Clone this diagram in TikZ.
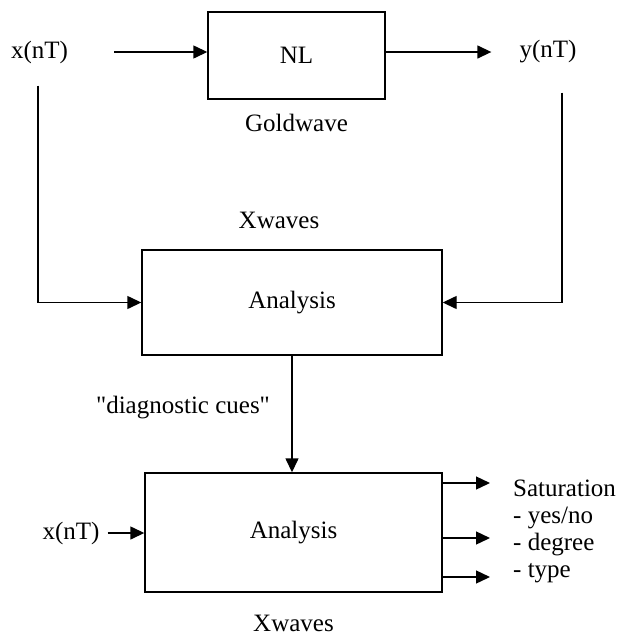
\documentclass[tikz,border=0pt]{standalone}
\usepackage{fontspec}
\newfontfamily\diagfont{Liberation Serif}
\usepackage{tikz}
\usetikzlibrary{shapes, arrows.meta, positioning}

\begin{document}
\begin{tikzpicture}[x=1pt, y=-1pt, node distance=100pt, auto,
            font=\diagfont\fontsize{25}{27}\selectfont,
            block/.style={draw, rectangle, line width=1.4pt, inner sep=0pt},
            txt/.style={inner sep=0pt},
            arrow/.style={-{Triangle[length=14pt, width=13pt]}, line width=1.4pt}]

            \useasboundingbox (0,0) rectangle (623,638);

            \node[block, minimum width=177pt, minimum height=87pt] (nl) at (296.5,55.5) {NL};
            \node[txt] (xin) at (39.5,52) {x(nT)};
            \node[txt] (yout) at (548,52) {y(nT)};
            \node[txt, below of=nl, node distance=67.5pt] (gold) {Goldwave};
            \node[block, minimum width=300pt, minimum height=105pt] (ana1) at (292,302.5) {Analysis};
            \node[txt, above of=ana1, node distance=82.5pt, xshift=-13pt] (xw1) {Xwaves};
            \node[txt] (cues) at (183,408) {"diagnostic cues"};
            \node[block, minimum width=297pt, minimum height=119pt, below of=ana1, node distance=230pt, xshift=1.5pt] (ana2) {Analysis};
            \node[txt, below of=ana2, node distance=91pt] (xw2) {Xwaves};
            \node[txt] (xin2) at (71,533) {x(nT)};
            \node[txt, anchor=north west, align=left] (sat) at (513,480) {Saturation\\- yes/no\\- degree\\- type};

            \draw[arrow] ([xshift=46pt]xin.east) -- (xin -| nl.west);
            \draw[arrow] (nl.east |- yout) -- ([xshift=-28pt]yout.west);
            \draw[arrow] ([xshift=-1.5pt, yshift=-22pt]xin.south) |- (ana1.west);
            \draw[arrow] ([xshift=14pt, yshift=-29pt]yout.south) |- (ana1.east);
            \draw[arrow] (ana1.south) -- (ana1.south |- ana2.north);
            \draw[arrow] ([xshift=8pt]xin2.east) -- (xin2 -| ana2.west);
            \foreach \y [count=\i] in {483,538,577} {
                \coordinate (out\i) at (490,\y);
                \draw[arrow] (ana2.east |- out\i) -- (out\i);
            }
        \end{tikzpicture}
\end{document}
